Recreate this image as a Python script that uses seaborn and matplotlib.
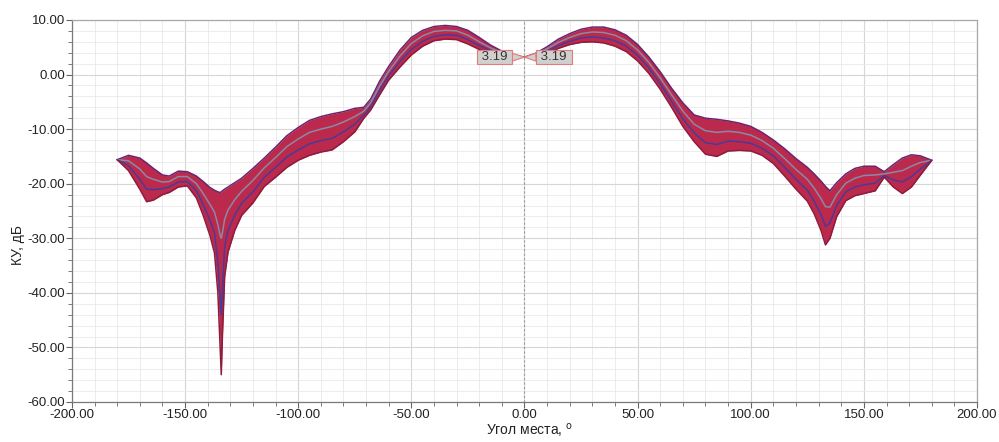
import numpy as np
import pandas as pd
import matplotlib
matplotlib.use("Agg")
import matplotlib.pyplot as plt
import seaborn as sns
from matplotlib.ticker import MultipleLocator, FormatStrFormatter

# ---- data (elevation angle, gain in dB) ----
angle = [-180, -175, -170, -167, -164, -160, -157, -153, -149, -145, -142, -139, -137,
         -135.5, -134.5, -134, -133.5, -132.5, -131, -128, -125, -120, -115, -110, -105,
         -100, -95, -90, -85, -80, -75, -71, -68, -64, -60, -55, -50, -45, -40, -35, -30,
         -25, -20, -15, -10, -5, 0, 5, 10, 15, 20, 25, 30, 35, 40, 45, 50, 55, 60, 65, 70,
         75, 80, 85, 90, 95, 100, 105, 110, 115, 120, 125, 128, 131, 133, 135, 138, 142,
         146, 150, 155, 159, 163, 167, 171, 175, 180]

upper = [-15.6, -14.8, -15.3, -16.2, -17.2, -18.4, -18.6, -17.7, -17.8, -18.6, -19.6, -20.7, -21.2,
         -21.5, -21.6, -21.5, -21.3, -21.0, -20.6, -19.8, -19.0, -17.2, -15.3, -13.3, -11.2,
         -9.7, -8.4, -7.7, -7.2, -6.8, -6.2, -6.0, -4.5, -1.2, 1.5, 4.5, 6.8, 8.1, 8.8, 9.0, 8.8,
         8.1, 6.8, 5.4, 4.3, 3.6, 3.19, 3.9, 5.1, 6.5, 7.5, 8.3, 8.7, 8.7, 8.2, 7.2, 5.5, 3.2, 0.5, -2.5, -5.2,
         -7.4, -8.0, -8.2, -8.5, -8.9, -9.5, -10.6, -12.0, -13.6, -15.4, -17.0, -18.2, -19.5, -20.5, -21.3, -19.8, -18.2,
         -17.2, -16.8, -16.8, -17.8, -16.5, -15.3, -14.7, -14.9, -15.7]

mid_upper = [-15.6, -15.8, -17.3, -18.7, -19.2, -19.7, -19.6, -18.7, -18.7, -20.0, -21.8, -23.8, -25.2,
             -27.5, -29.5, -30.0, -29.0, -26.5, -24.8, -22.9, -21.4, -19.4, -17.1, -15.2, -13.2,
             -11.8, -10.6, -10.0, -9.5, -8.7, -7.7, -6.7, -5.2, -2.1, 0.6, 3.4, 5.7, 7.1, 7.9, 8.1, 8.0,
             7.2, 6.0, 4.9, 4.0, 3.4, 3.19, 3.7, 4.7, 5.9, 6.8, 7.5, 7.8, 7.7, 7.2, 6.2, 4.5, 2.2, -0.6, -3.7, -6.7,
             -9.1, -10.3, -10.6, -10.4, -10.6, -11.1, -12.1, -13.5, -15.4, -17.4, -19.2, -20.8, -22.7, -24.2, -24.3, -22.0, -19.9,
             -19.0, -18.5, -18.4, -18.2, -17.9, -17.6, -16.8, -16.1, -15.7]

mid_lower = [-15.6, -16.7, -19.2, -21.0, -21.1, -20.9, -20.6, -19.7, -19.6, -21.3, -23.8, -26.7, -29.0,
             -34.5, -41.0, -44.0, -39.5, -31.5, -28.6, -25.7, -23.6, -21.5, -18.8, -17.0, -15.1,
             -13.8, -12.7, -12.1, -11.7, -10.5, -9.1, -7.4, -5.9, -2.9, -0.2, 2.4, 4.6, 6.1, 7.0, 7.3, 7.2,
             6.4, 5.3, 4.4, 3.7, 3.3, 3.19, 3.5, 4.3, 5.3, 6.1, 6.7, 6.9, 6.7, 6.2, 5.2, 3.5, 1.2, -1.7, -4.9, -8.1,
             -10.7, -12.5, -12.8, -12.2, -12.3, -12.6, -13.5, -14.9, -17.0, -19.2, -21.2, -23.2, -25.6, -27.8, -27.2, -24.0, -21.5,
             -20.6, -20.2, -19.9, -18.5, -19.3, -19.7, -18.7, -17.3, -15.7]

lower = [-15.6, -17.6, -21.0, -23.3, -23.0, -22.0, -21.6, -20.6, -20.4, -22.6, -25.8, -29.5, -32.7,
         -40.0, -50.0, -55.0, -48.0, -37.0, -32.5, -28.5, -25.8, -23.5, -20.5, -18.8, -17.0,
         -15.7, -14.8, -14.2, -13.8, -12.3, -10.5, -8.0, -6.5, -3.7, -1.0, 1.4, 3.6, 5.2, 6.2, 6.5, 6.4,
         5.6, 4.6, 3.9, 3.4, 3.1, 3.19, 3.3, 3.9, 4.8, 5.5, 5.9, 6.0, 5.8, 5.2, 4.2, 2.5, 0.2, -2.7, -6.0, -9.5,
         -12.3, -14.6, -15.0, -14.0, -13.9, -14.0, -14.8, -16.3, -18.6, -21.0, -23.2, -25.5, -28.5, -31.2, -30.0, -26.0, -23.1,
         -22.2, -21.8, -21.3, -18.8, -20.6, -21.8, -20.6, -18.4, -15.7]

peak_value = 3.19
x_label = "Угол места, $^{\\mathrm{o}}$"
y_label = "КУ, дБ"

# ---- style ----
sns.set_theme(style="white")
plt.rcParams['font.family'] = ['Liberation Sans', 'DejaVu Sans']

fig = plt.figure(figsize=(9.99, 4.42), dpi=100)
ax = fig.add_axes([0.072, 0.0905, 0.906, 0.8643])

curves = {"upper": upper, "mid_upper": mid_upper, "mid_lower": mid_lower, "lower": lower}
df = pd.concat([pd.DataFrame({"angle": angle, "gain": v, "curve": k}) for k, v in curves.items()],
               ignore_index=True)

ax.fill_between(angle, upper, lower, color="#bb2a4c", lw=0, zorder=2)
palette = {"upper": "#6b2470", "mid_upper": "#8a8aa4", "mid_lower": "#4a3a96", "lower": "#8e1c3c"}
sns.lineplot(data=df, x="angle", y="gain", hue="curve", palette=palette, estimator=None,
             sort=False, lw=1.1, legend=False, ax=ax, zorder=3)

ax.axvline(0, color="#9a9a9a", lw=0.8, ls=(0, (2, 2)), zorder=1)

ax.set_xlim(-200, 200)
ax.set_ylim(-60, 10)
ax.xaxis.set_major_locator(MultipleLocator(50))
ax.xaxis.set_minor_locator(MultipleLocator(10))
ax.yaxis.set_major_locator(MultipleLocator(10))
ax.yaxis.set_minor_locator(MultipleLocator(2))
ax.xaxis.set_major_formatter(FormatStrFormatter("%.2f"))
ax.yaxis.set_major_formatter(FormatStrFormatter("%.2f"))

ax.grid(which="major", color="#d6d6d6", lw=0.8, zorder=0)
ax.grid(which="minor", color="#e9e9e9", lw=0.6, zorder=0)
ax.set_axisbelow(True)

ax.tick_params(which="both", direction="out", bottom=True, left=True, colors="#666666",
               labelcolor="#222222", labelsize=9.5, pad=1)
ax.tick_params(which="major", length=4, width=0.8)
ax.tick_params(which="minor", length=3, width=0.6)

for side in ["left", "bottom"]:
    ax.spines[side].set_color("#7a7a7a")
    ax.spines[side].set_linewidth(0.9)
for side in ["top", "right"]:
    ax.spines[side].set_color("#a8a8a8")
    ax.spines[side].set_linewidth(0.9)

ax.set_xlabel(x_label, fontsize=10, color="#222222")
ax.set_ylabel(y_label, fontsize=10, color="#222222")
ax.xaxis.set_label_coords(0.506, -0.05)
ax.yaxis.set_label_coords(-0.052, 0.41)

box = dict(boxstyle="square,pad=0.08", fc="#d2cfcf", ec="#e07c7c", lw=0.8)
arrow = dict(arrowstyle="wedge,tail_width=0.6,shrink_factor=0.5", fc="#d2cfcf", ec="#e07c7c",
             lw=0.8, shrinkA=0, shrinkB=0)
for xt in (-13.4, 13.0):
    ax.annotate(f" {peak_value:.2f} ", xy=(0, peak_value), xytext=(xt, peak_value),
                ha="center", va="center", fontsize=9.5, color="#333333",
                bbox=box, arrowprops=arrow, zorder=6)

fig.savefig("out.png", dpi=100)
